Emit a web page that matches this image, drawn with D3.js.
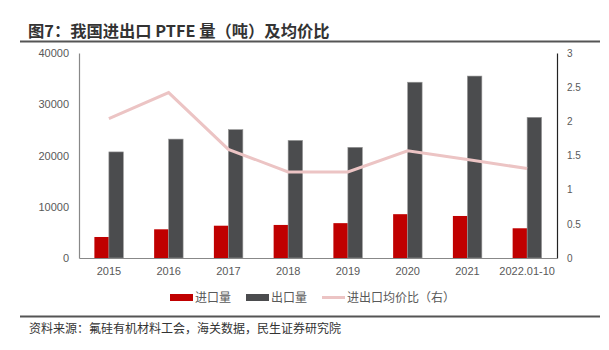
<!DOCTYPE html>
<html><head><meta charset="utf-8">
<script src="https://cdn.jsdelivr.net/npm/d3@7"></script>
<style>body{margin:0;background:#fff;} svg{display:block;}</style>
</head><body>
<svg id="c" width="609" height="350"></svg>
<script>
const categories = ["2015","2016","2017","2018","2019","2020","2021","2022.01-10"];
const importVol = [4100, 5600, 6300, 6450, 6800, 8550, 8200, 5800];
const exportVol = [20700, 23200, 25050, 22950, 21600, 34300, 35500, 27450];
const priceRatio = [2.04, 2.42, 1.59, 1.26, 1.26, 1.57, 1.44, 1.31];
const leftTicks = [0, 10000, 20000, 30000, 40000];
const rightTicks = [0, 0.5, 1, 1.5, 2, 2.5, 3];
const seriesNames = ["进口量", "出口量", "进出口均价比（右）"];
const colors = ["#c00000", "#4b4c4e", "#ecc4c4"];

const svg = d3.select("#c");
const L = 79, R = 557, T = 53, B = 258;
const cjk = "'Noto Sans CJK SC','Noto Sans',sans-serif";
const num = "'Liberation Sans','DejaVu Sans',sans-serif";

// title
svg.append("text").attr("x", 28).attr("y", 37).text("图7：我国进出口 PTFE 量（吨）及均价比")
  .attr("font-family", cjk).attr("font-weight", "bold").attr("font-size", 16.3).attr("fill", "#333");
svg.append("line").attr("x1", 20).attr("x2", 600).attr("y1", 41.5).attr("y2", 41.5)
  .attr("stroke", "#555").attr("stroke-width", 2);
svg.append("line").attr("x1", 20).attr("x2", 600).attr("y1", 316.5).attr("y2", 316.5)
  .attr("stroke", "#555").attr("stroke-width", 2);
svg.append("text").attr("x", 29).attr("y", 333).text("资料来源：氟硅有机材料工会，海关数据，民生证券研究院")
  .attr("font-family", cjk).attr("font-size", 12).attr("fill", "#333");

const x0 = d3.scaleBand().domain(categories).range([L, R]).paddingInner(0.515).paddingOuter(0.2575);
const x1 = d3.scaleBand().domain([0, 1]).range([0, x0.bandwidth()]);
const yL = d3.scaleLinear().domain([0, 40000]).range([B, T]);
const yR = d3.scaleLinear().domain([0, 3]).range([B, T]);

// bars
[importVol, exportVol].forEach((vals, si) => {
  svg.append("g").selectAll("rect").data(vals).join("rect")
    .attr("x", (d, i) => x0(categories[i]) + x1(si))
    .attr("width", x1.bandwidth())
    .attr("y", d => yL(d))
    .attr("height", d => B - yL(d))
    .attr("fill", colors[si])
    .attr("stroke", si === 1 ? "#9a9a9a" : "none").attr("stroke-width", 0.6);
});

// line
const line = d3.line().x((d, i) => x0(categories[i]) + x0.bandwidth() / 2).y(d => yR(d));
svg.append("path").datum(priceRatio).attr("d", line).attr("fill", "none")
  .attr("stroke", colors[2]).attr("stroke-width", 3);

// axes
const axL = d3.axisLeft(yL).tickValues(leftTicks).tickSize(0).tickPadding(10).tickFormat(d3.format("d"));
const gL = svg.append("g").attr("transform", `translate(${L},0)`).call(axL);
gL.select(".domain").attr("stroke", "#888").attr("stroke-width", 1.2);
gL.selectAll("text").attr("font-family", num).attr("font-size", 11).attr("fill", "#595959");

const axR = d3.axisRight(yR).tickValues(rightTicks).tickSize(0).tickPadding(10).tickFormat(d3.format(""));
const gR = svg.append("g").attr("transform", `translate(${R},0)`).call(axR);
gR.select(".domain").attr("stroke", "#222").attr("stroke-width", 1.2);
gR.selectAll("text").attr("font-family", num).attr("font-size", 10).attr("fill", "#595959");

const axB = d3.axisBottom(x0).tickSize(0).tickPadding(9);
const gB = svg.append("g").attr("transform", `translate(0,${B})`).call(axB);
gB.select(".domain").attr("stroke", "#888").attr("stroke-width", 1.2);
gB.selectAll("text").attr("font-family", num).attr("font-size", 11).attr("fill", "#595959");

// legend
const leg = [{x: 170, t: seriesNames[0], c: colors[0], type: "rect"},
             {x: 246, t: seriesNames[1], c: colors[1], type: "rect"},
             {x: 322, t: seriesNames[2], c: colors[2], type: "line"}];
leg.forEach(l => {
  if (l.type === "rect") {
    svg.append("rect").attr("x", l.x).attr("y", 294).attr("width", 23).attr("height", 7).attr("fill", l.c);
  } else {
    svg.append("line").attr("x1", l.x).attr("x2", l.x + 23).attr("y1", 297.5).attr("y2", 297.5)
      .attr("stroke", l.c).attr("stroke-width", 3);
  }
  svg.append("text").attr("x", l.x + 25).attr("y", 302).text(l.t)
    .attr("font-family", cjk).attr("font-size", 12).attr("fill", "#595959");
});
</script>
</body></html>
